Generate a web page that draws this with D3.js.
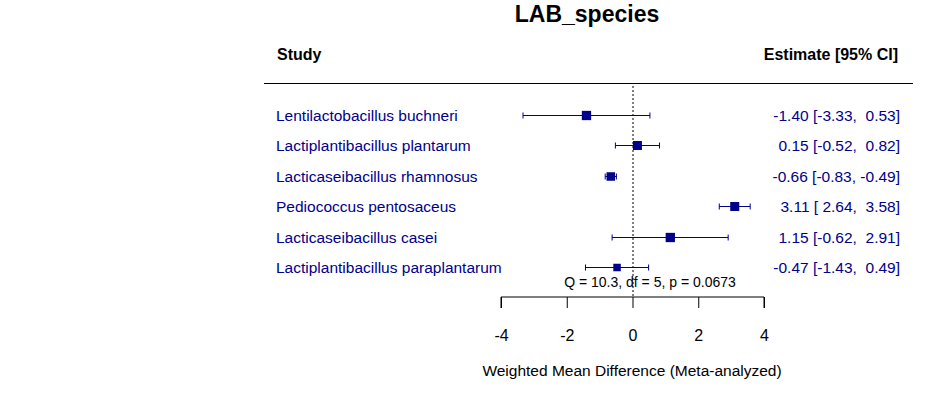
<!DOCTYPE html>
<html><head><meta charset="utf-8">
<script src="https://cdn.jsdelivr.net/npm/d3@7"></script>
<style>body{margin:0;background:#fff}svg{display:block}text{font-family:"Liberation Sans",Arial,sans-serif}</style>
</head><body>
<svg id="c" width="937" height="393"></svg>
<script>
const studies = ["Lentilactobacillus buchneri","Lactiplantibacillus plantarum","Lacticaseibacillus rhamnosus","Pediococcus pentosaceus","Lacticaseibacillus casei","Lactiplantibacillus paraplantarum"];
const estimates = [-1.40, 0.15, -0.66, 3.11, 1.15, -0.47];
const lower = [-3.33, -0.52, -0.83, 2.64, -0.62, -1.43];
const upper = [0.53, 0.82, -0.49, 3.58, 2.91, 0.49];
const weights = [9.3, 9, 8.5, 9, 9.3, 7.5];
const xTicks = [-4, -2, 0, 2, 4];
const title = "LAB_species";
const hetText = "Q = 10.3, df = 5, p = 0.0673";
const xTitle = "Weighted Mean Difference (Meta-analyzed)";

const svg = d3.select("#c");
const col = "#00008B";
const x = d3.scaleLinear().domain([-4, 4]).range([501, 764]);
const y = d3.scaleLinear().domain([0, 5]).range([115, 267]);
const fmt = v => (v < 0 ? "-" : "") + Math.abs(v).toFixed(2);
const f = v => (v < 0 ? "" : " ") + fmt(v);

svg.append("text").attr("x", 587).attr("y", 22).attr("text-anchor", "middle")
  .attr("font-size", 23).attr("font-weight", "bold").text(title);
svg.append("text").attr("x", 277).attr("y", 60).attr("font-size", 16).attr("font-weight", "bold").text("Study");
svg.append("text").attr("x", 898).attr("y", 60).attr("text-anchor", "end").attr("font-size", 16).attr("font-weight", "bold").text("Estimate [95% CI]");
svg.append("line").attr("x1", 264).attr("x2", 913).attr("y1", 83.5).attr("y2", 83.5).attr("stroke", "#000").attr("stroke-width", 1);

svg.append("line").attr("x1", x(0) + 0.5).attr("x2", x(0) + 0.5).attr("y1", 86).attr("y2", 297)
  .attr("stroke", "#000").attr("stroke-dasharray", "2,2").attr("stroke-width", 1);

const g = svg.append("g");
studies.forEach((s, i) => {
  const yy = y(i);
  g.append("text").attr("x", 276).attr("y", yy + 6).attr("font-size", 15.5).attr("fill", col).text(s);
  g.append("text").attr("x", 900).attr("y", yy + 6).attr("text-anchor", "end").attr("font-size", 15.5).attr("fill", col)
    .attr("xml:space", "preserve")
    .text(`${fmt(estimates[i])} [${f(lower[i])}, ${f(upper[i])}]`);
  const yl = Math.round(yy) + 0.5;
  g.append("line").attr("x1", x(lower[i])).attr("x2", x(upper[i])).attr("y1", yl).attr("y2", yl).attr("stroke", col).attr("stroke-width", 1);
  [lower[i], upper[i]].forEach(v => g.append("line").attr("x1", x(v)).attr("x2", x(v)).attr("y1", yl - 3).attr("y2", yl + 3).attr("stroke", col));
  const w = weights[i];
  g.append("rect").attr("x", x(estimates[i]) - w / 2).attr("y", yl - w / 2).attr("width", w).attr("height", w).attr("fill", col);
});

svg.append("text").attr("x", 650).attr("y", 287).attr("text-anchor", "middle").attr("font-size", 14).text(hetText);

const ax = svg.append("g").attr("transform", "translate(0,297)")
  .call(d3.axisBottom(x).tickValues(xTicks).tickSize(11).tickPadding(22).tickFormat(d => (d < 0 ? "-" : "") + Math.abs(d)));
ax.select(".domain").attr("d", `M${x(-4)},11V0H${x(4)}V11`).attr("stroke", "#000");
ax.selectAll(".tick line").attr("stroke", "#000");
ax.selectAll(".tick text").attr("font-size", 16).attr("fill", "#000").attr("font-family", "Liberation Sans, Arial, sans-serif");

svg.append("text").attr("x", 632).attr("y", 376).attr("text-anchor", "middle").attr("font-size", 15.5).text(xTitle);
</script>
</body></html>
